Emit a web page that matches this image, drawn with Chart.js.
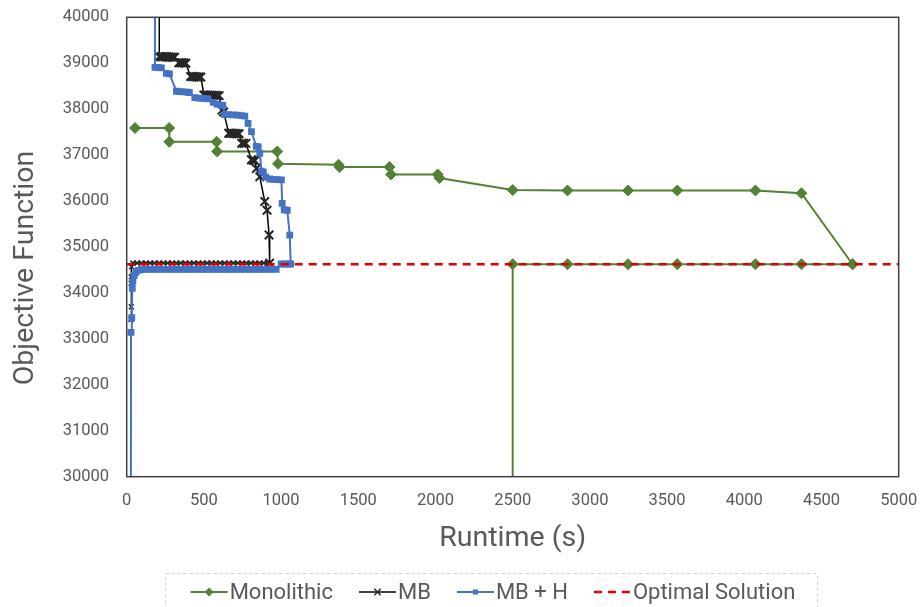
<!DOCTYPE html>
<html>
<head>
<meta charset="utf-8">
<style>
    html, body { margin: 0; padding: 0; background: #ffffff; }
    canvas { display: block; }
</style>
</head>
<body>
<canvas id="runtime" width="920" height="607"></canvas>
<script src="https://cdn.jsdelivr.net/npm/chart.js"></script>
<script>
    //labels
    const seriesNames = ['Monolithic', 'MB', 'MB + H', 'Optimal Solution'];
    const xTitle = 'Runtime (s)';
    const yTitle = 'Objective Function';
    const xTickValues = [0, 500, 1000, 1500, 2000, 2500, 3000, 3500, 4000, 4500, 5000];
    const yTickValues = [30000, 31000, 32000, 33000, 34000, 35000, 36000, 37000, 38000, 39000, 40000];

    //Monolithic - upper and lower curves
    const monoUpperX = [54, 275, 276, 582, 586, 975, 980, 1372, 1378, 1702, 1712, 2014, 2025, 2500, 2855, 3247, 3566, 4072, 4370, 4701];
    const monoUpperY = [37590, 37590, 37290, 37290, 37080, 37080, 36810, 36790, 36740, 36740, 36580, 36580, 36500, 36240, 36230, 36230, 36230, 36230, 36170, 34625];
    const monoLowerX = [2500, 2500, 2855, 3247, 3566, 4072, 4370, 4701];
    const monoLowerY = [25000, 34625, 34625, 34625, 34625, 34625, 34625, 34625];

    //MB - upper and lower curves
    const mbUpperX = [211, 211, 223, 235, 248, 260, 273, 285, 298, 310, 338, 349, 360, 372, 383, 414, 425, 436, 447, 458, 469, 480, 500, 512, 525, 538, 550, 563, 575, 587, 599, 617, 628, 661, 672, 683, 695, 706, 717, 728, 745, 758, 772, 808, 819, 830, 840, 862, 894, 909, 922, 926];
    const mbUpperY = [45000, 39140, 39140, 39140, 39140, 39140, 39135, 39135, 39130, 39130, 39010, 39010, 39010, 39005, 39000, 38710, 38710, 38705, 38705, 38700, 38700, 38700, 38310, 38310, 38305, 38305, 38300, 38300, 38300, 38295, 38295, 37980, 37940, 37475, 37475, 37475, 37470, 37470, 37465, 37465, 37260, 37258, 37255, 36900, 36890, 36880, 36710, 36530, 35990, 35800, 35260, 34650];
    const mbLowerX = [28, 30, 29, 30, 32, 40, 68, 95, 125, 152, 180, 210, 238, 265, 295, 322, 350, 380, 408, 435, 465, 492, 520, 550, 578, 605, 635, 662, 690, 720, 748, 775, 805, 832, 860, 888, 910, 926];
    const mbLowerY = [33420, 33700, 34210, 34350, 34570, 34650, 34650, 34650, 34650, 34650, 34650, 34650, 34650, 34650, 34650, 34650, 34650, 34650, 34650, 34650, 34650, 34650, 34650, 34650, 34650, 34650, 34650, 34650, 34650, 34650, 34650, 34650, 34650, 34650, 34650, 34650, 34650, 34650];

    //MB + H - upper and lower curves
    const mbhUpperX = [183, 183, 205, 225, 257, 277, 322, 345, 370, 395, 406, 441, 465, 490, 510, 526, 561, 585, 610, 622, 635, 660, 690, 720, 745, 765, 786, 808, 839, 852, 862, 873, 885, 900, 926, 950, 975, 1002, 1007, 1020, 1040, 1056, 1062];
    const mbhUpperY = [45000, 38910, 38910, 38900, 38780, 38770, 38390, 38380, 38375, 38370, 38360, 38250, 38240, 38235, 38230, 38225, 38150, 38110, 38090, 38080, 37880, 37880, 37875, 37870, 37860, 37850, 37690, 37510, 37190, 37180, 37040, 36650, 36630, 36520, 36480, 36470, 36465, 36460, 35950, 35810, 35800, 35260, 34630];
    const mbhLowerX = [26, 28, 33, 36, 40, 48, 60, 75, 95, 122, 150, 178, 205, 233, 262, 290, 318, 345, 375, 402, 430, 458, 487, 515, 542, 570, 598, 627, 655, 682, 710, 738, 767, 795, 822, 850, 878, 905, 935, 968, 1000, 1025, 1050];
    const mbhLowerY = [25000, 33140, 33460, 34100, 34250, 34380, 34450, 34490, 34510, 34515, 34515, 34515, 34515, 34515, 34515, 34515, 34515, 34515, 34515, 34515, 34515, 34515, 34515, 34515, 34515, 34515, 34515, 34515, 34515, 34515, 34515, 34515, 34515, 34515, 34515, 34515, 34515, 34515, 34515, 34515, 34630, 34630, 34630];

    //Optimal solution
    const optX = [0, 5000];
    const optY = [34625, 34625];

    const textColor = '#595959';
    const pts = (xs, ys) => xs.map((x, i) => ({x: x, y: ys[i]}));

    //series styles (shared by chart and legend)
    const monoStyle = {borderColor: '#548235', borderWidth: 2, pointStyle: 'rectRot', pointRadius: 5.5, pointBackgroundColor: '#548235', pointBorderColor: '#548235', pointBorderWidth: 1};
    const mbStyle = {borderColor: '#000000', borderWidth: 1.5, pointStyle: 'crossRot', pointRadius: 6, pointBackgroundColor: '#262626', pointBorderColor: '#262626', pointBorderWidth: 2};
    const mbhStyle = {borderColor: '#4472C4', borderWidth: 2, pointStyle: 'rect', pointRadius: 4.8, pointBackgroundColor: '#4472C4', pointBorderColor: '#4472C4', pointBorderWidth: 0};
    const optStyle = {borderColor: '#E00000', borderWidth: 2.5, borderDash: [8, 6], pointRadius: 0};

    Chart.defaults.font.family = 'Roboto';
    Chart.defaults.color = textColor;

    const frameAndLegend = {
        id: 'frameAndLegend',
        afterDraw(chart) {
            const ctx = chart.ctx;
            const a = chart.chartArea;
            ctx.save();
            //plot frame
            ctx.strokeStyle = '#404040';
            ctx.lineWidth = 1.5;
            ctx.strokeRect(a.left, a.top, a.right - a.left, a.bottom - a.top);

            //y title
            ctx.fillStyle = textColor;
            ctx.font = '28.5px Roboto';
            ctx.textAlign = 'center';
            ctx.textBaseline = 'middle';
            ctx.translate(26, 268);
            ctx.rotate(-Math.PI / 2);
            ctx.fillText(yTitle, 0, 0);
            ctx.restore();

            //legend
            ctx.save();
            ctx.setLineDash([3, 3]);
            ctx.strokeStyle = '#d0d0d0';
            ctx.lineWidth = 1;
            ctx.strokeRect(165.5, 573.5, 652, 50);
            ctx.setLineDash([]);
            ctx.font = '22px Roboto';
            const items = [monoStyle, mbStyle, mbhStyle, optStyle];
            const sample = 37, gapText = 2, gapItem = 26;
            const widths = items.map((s, i) => sample + gapText + ctx.measureText(seriesNames[i]).width);
            const total = widths.reduce((p, w) => p + w, 0) + gapItem * (items.length - 1);
            let x = 493 - total / 2;
            const y = 592;
            items.forEach((s, i) => {
                ctx.setLineDash(s.borderDash || []);
                ctx.strokeStyle = s.borderColor;
                ctx.lineWidth = s.borderWidth;
                ctx.beginPath();
                ctx.moveTo(x, y);
                ctx.lineTo(x + sample, y);
                ctx.stroke();
                ctx.setLineDash([]);
                if (s.pointRadius && Chart.helpers && Chart.helpers.drawPoint) {
                    ctx.fillStyle = s.pointBackgroundColor;
                    ctx.strokeStyle = s.pointBorderColor;
                    ctx.lineWidth = s.pointBorderWidth * 0.75;
                    Chart.helpers.drawPoint(ctx, {pointStyle: s.pointStyle, radius: s.pointRadius * 0.75, borderWidth: s.pointBorderWidth, rotation: 0}, x + sample / 2, y);
                }
                ctx.fillStyle = textColor;
                ctx.textAlign = 'left';
                ctx.textBaseline = 'middle';
                ctx.fillText(seriesNames[i], x + sample + gapText, y + 1.5);
                x += widths[i] + gapItem;
            });
            ctx.restore();
        }
    };

    new Chart(document.getElementById('runtime'), {
        type: 'scatter',
        data: {
            datasets: [
                Object.assign({label: seriesNames[3], data: pts(optX, optY), showLine: true, order: 0}, optStyle),
                Object.assign({label: seriesNames[2], data: pts(mbhUpperX, mbhUpperY), showLine: true, order: 1}, mbhStyle),
                Object.assign({label: seriesNames[2], data: pts(mbhLowerX, mbhLowerY), showLine: true, order: 1}, mbhStyle),
                Object.assign({label: seriesNames[1], data: pts(mbUpperX, mbUpperY), showLine: true, order: 2}, mbStyle),
                Object.assign({label: seriesNames[1], data: pts(mbLowerX, mbLowerY), showLine: true, order: 2}, mbStyle, {pointRadius: 3.5, pointBorderWidth: 1.5}),
                Object.assign({label: seriesNames[0], data: pts(monoUpperX, monoUpperY), showLine: true, order: 3}, monoStyle),
                Object.assign({label: seriesNames[0], data: pts(monoLowerX, monoLowerY), showLine: true, order: 3}, monoStyle)
            ]
        },
        options: {
            responsive: false,
            animation: false,
            events: [],
            layout: {padding: {top: 17.3, right: 21.3, bottom: 0, left: 0}},
            plugins: {legend: {display: false}, tooltip: {enabled: false}},
            scales: {
                x: {
                    type: 'linear',
                    min: 0,
                    max: 5000,
                    grid: {display: false, drawTicks: false},
                    border: {display: false},
                    afterBuildTicks: s => { s.ticks = xTickValues.map(v => ({value: v})); },
                    ticks: {padding: 14, font: {size: 16.5}, maxRotation: 0, autoSkip: false, callback: v => String(v)},
                    title: {display: true, text: xTitle, font: {size: 28.5}, color: textColor, padding: {top: 0, bottom: 51}},
                    afterFit: s => { s.height = 130.3; s.paddingLeft = 0; s.paddingRight = 0; }
                },
                y: {
                    min: 30000,
                    max: 40000,
                    grid: {display: false, drawTicks: false},
                    border: {display: false},
                    afterBuildTicks: s => { s.ticks = yTickValues.map(v => ({value: v})); },
                    ticks: {padding: 17.7, font: {size: 16.5}, autoSkip: false, callback: v => String(v)},
                    afterFit: s => { s.width = 126.7; s.paddingTop = 0; s.paddingBottom = 0; }
                }
            }
        },
        plugins: [frameAndLegend]
    });
</script>
</body>
</html>
